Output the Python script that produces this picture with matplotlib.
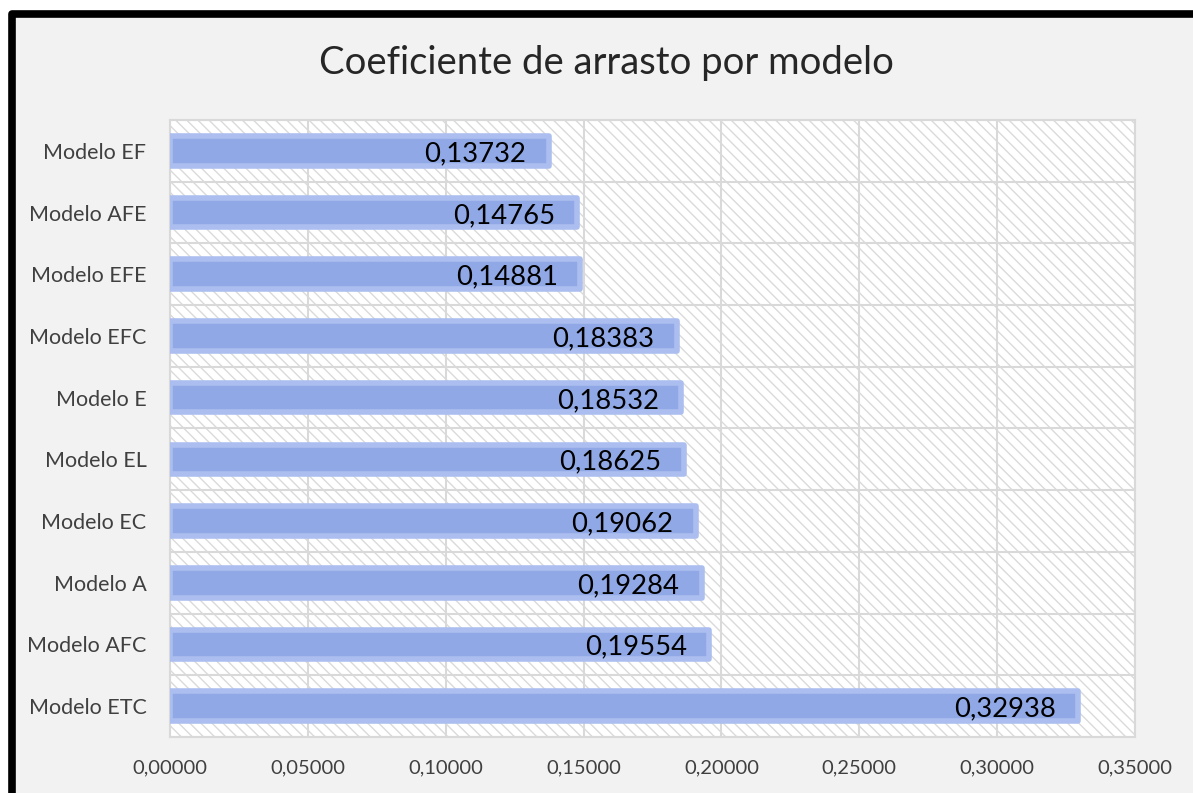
import matplotlib
matplotlib.use("Agg")
import matplotlib.pyplot as plt
from matplotlib.patches import Rectangle
from matplotlib.ticker import FuncFormatter

categories = ["Modelo EF", "Modelo AFE", "Modelo EFE", "Modelo EFC", "Modelo E",
              "Modelo EL", "Modelo EC", "Modelo A", "Modelo AFC", "Modelo ETC"]
values = [0.13732, 0.14765, 0.14881, 0.18383, 0.18532,
          0.18625, 0.19062, 0.19284, 0.19554, 0.32938]
x_ticks = [0.0, 0.05, 0.10, 0.15, 0.20, 0.25, 0.30, 0.35]

plt.rcParams["font.family"] = ["Lato", "DejaVu Sans"]
plt.rcParams["hatch.linewidth"] = 1.0
plt.rcParams["hatch.color"] = "#dadada"

W, H = 1193, 793
fig = plt.figure(figsize=(W / 100, H / 100), dpi=100, facecolor="white")

# chart frame: light grey area with a thick black border
frame = Rectangle((11.5 / W, -0.2), 1.3, 1 - 13.5 / H + 0.2,
                  transform=fig.transFigure, facecolor="#f2f2f2",
                  edgecolor="black", linewidth=5.5, joinstyle="round", zorder=-10)
fig.patches.append(frame)

ax = fig.add_axes([170 / W, 1 - 737 / H, (1135 - 170) / W, (737 - 120) / H])
ax.set_zorder(1)
ax.set_facecolor("white")
ax.add_patch(Rectangle((0, 0), 1, 1, transform=ax.transAxes, facecolor="white",
                       edgecolor="#dadada", hatch="\\\\\\", linewidth=0, zorder=0))

y = list(range(len(categories)))
ax.barh(y, values, height=0.48, color="#90a9e6", edgecolor="#abbeef",
        linewidth=4, joinstyle="round", zorder=3)

for yi, v in zip(y, values):
    ax.annotate(f"{v:.5f}".replace(".", ","), xy=(v, yi), xytext=(-16, -2),
                textcoords="offset points", ha="right", va="center",
                fontsize=19.7, color="black", zorder=4)

ax.set_xlim(0, 0.35)
ax.set_ylim(len(categories) - 0.5, -0.5)
ax.set_xticks(x_ticks)
ax.xaxis.set_major_formatter(FuncFormatter(lambda v, p: f"{v:.5f}".replace(".", ",")))
ax.set_yticks(y)
ax.set_yticklabels(categories)
ax.set_yticks([i + 0.5 for i in range(-1, len(categories))], minor=True)

ax.grid(axis="x", which="major", color="#d9d9d9", linewidth=1.5, zorder=1)
ax.grid(axis="y", which="minor", color="#d9d9d9", linewidth=1.5, zorder=1)
ax.grid(axis="y", which="major", visible=False)
ax.set_axisbelow(True)

ax.tick_params(axis="both", which="both", length=0)
ax.tick_params(axis="x", pad=16, labelsize=14.5, labelcolor="#404040")
ax.tick_params(axis="y", pad=17, labelsize=15.5, labelcolor="#404040")
for s in ax.spines.values():
    s.set_color("#d9d9d9")
    s.set_linewidth(1.5)

fig.text(606 / W, 1 - 63 / H, "Coeficiente de arrasto por modelo",
         ha="center", va="center", fontsize=27.5, color="#262626")

fig.savefig("out.png", dpi=100, facecolor=fig.get_facecolor())
